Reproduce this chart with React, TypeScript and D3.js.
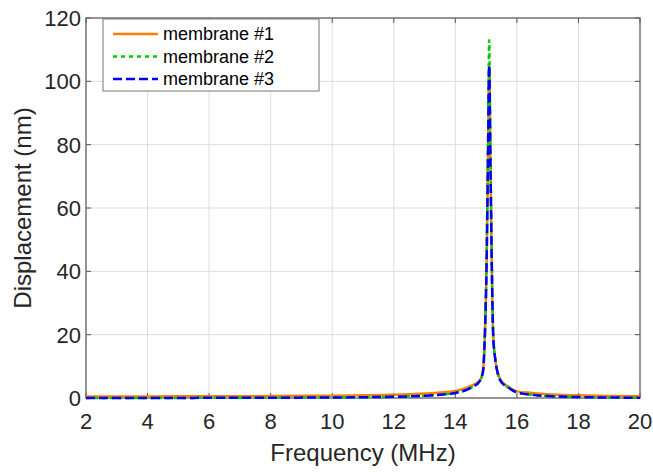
import React from "react";
import * as d3 from "d3";

const freq = [2, 4, 6, 8, 10, 11, 12, 13, 13.5, 14, 14.5, 14.8, 14.9, 14.96, 15.02, 15.06, 15.1, 15.14, 15.18, 15.23, 15.3, 15.36, 15.47, 15.72, 16, 16.5, 17, 18, 19, 20];
const membrane1 = [0.45, 0.5, 0.55, 0.6, 0.75, 0.85, 1.0, 1.4, 1.7, 2.2, 3.8, 5.7, 8.8, 20, 45, 75, 105, 75, 45, 20, 12, 8.8, 5.7, 3.6, 2.1, 1.6, 1.2, 0.85, 0.65, 0.55];
const membrane2 = [0.0, 0.0, 0.05, 0.1, 0.15, 0.25, 0.4, 0.7, 1.0, 1.6, 3.2, 5.4, 8.5, 20, 47, 80, 113, 80, 47, 20, 12, 8.5, 5.4, 3.3, 1.8, 1.0, 0.6, 0.3, 0.15, 0.1];
const membrane3 = [0.0, 0.0, 0.05, 0.1, 0.15, 0.25, 0.4, 0.7, 1.0, 1.6, 3.2, 5.4, 8.5, 20, 45, 75, 105, 75, 45, 20, 12, 8.5, 5.4, 3.3, 1.8, 1.0, 0.6, 0.3, 0.15, 0.1];

const seriesNames = ["membrane #1", "membrane #2", "membrane #3"];
const xTicks = [2, 4, 6, 8, 10, 12, 14, 16, 18, 20];
const yTicks = [0, 20, 40, 60, 80, 100, 120];

const W = 653, H = 472;
const M = { left: 86, right: 13, top: 18, bottom: 74 };
const FONT = "'Liberation Sans', Arial, Helvetica, sans-serif";
const TXT = "#262626";

const styles = [
  { color: "#ff8000", dash: "none" },
  { color: "#00cc00", dash: "4,4" },
  { color: "#0000ff", dash: "9,4" },
];

export default function App() {
  const x = d3.scaleLinear().domain([2, 20]).range([M.left, W - M.right]);
  const y = d3.scaleLinear().domain([0, 120]).range([H - M.bottom, M.top]);
  const data = [membrane1, membrane2, membrane3];
  const line = d3
    .line<number>()
    .x((_, i) => x(freq[i]))
    .y((d) => y(d))
    .curve(d3.curveMonotoneX);
  const x0 = x(2), x1 = x(20), y0 = y(0), y1 = y(120);
  const tl = 5;
  const lg = { x: 103, y: 19, w: 216, h: 72 };

  return (
    <svg width={W} height={H} style={{ position: "absolute", left: 0, top: 0, background: "#fff" }}>
      <rect x={0} y={0} width={W} height={H} fill="#fff" />
      {xTicks.map((t) => (
        <line key={"gx" + t} x1={x(t)} x2={x(t)} y1={y0} y2={y1} stroke="#dedede" strokeWidth={1} />
      ))}
      {yTicks.map((t) => (
        <line key={"gy" + t} x1={x0} x2={x1} y1={y(t)} y2={y(t)} stroke="#dedede" strokeWidth={1} />
      ))}
      {xTicks.map((t) => (
        <g key={"tx" + t}>
          <line x1={x(t)} x2={x(t)} y1={y0} y2={y0 - tl} stroke="#555" strokeWidth={1} />
          <line x1={x(t)} x2={x(t)} y1={y1} y2={y1 + tl} stroke="#555" strokeWidth={1} />
        </g>
      ))}
      {yTicks.map((t) => (
        <g key={"ty" + t}>
          <line x1={x0} x2={x0 + tl} y1={y(t)} y2={y(t)} stroke="#555" strokeWidth={1} />
          <line x1={x1} x2={x1 - tl} y1={y(t)} y2={y(t)} stroke="#555" strokeWidth={1} />
        </g>
      ))}
      <rect x={x0} y={y1} width={x1 - x0} height={y0 - y1} fill="none" stroke="#666" strokeWidth={1.3} />
      {data.map((d, i) => (
        <path
          key={"s" + i}
          d={line(d) || ""}
          fill="none"
          stroke={styles[i].color}
          strokeWidth={2.5}
          strokeDasharray={styles[i].dash}
          strokeLinejoin="round"
        />
      ))}
      {xTicks.map((t) => (
        <text key={"lx" + t} x={x(t)} y={y0 + 31} textAnchor="middle" fontSize={22} fontFamily={FONT} fill={TXT}>
          {t}
        </text>
      ))}
      {yTicks.map((t) => (
        <text key={"ly" + t} x={x0 - 5} y={y(t)} dy="0.36em" textAnchor="end" fontSize={22} fontFamily={FONT} fill={TXT}>
          {t}
        </text>
      ))}
      <text x={(x0 + x1) / 2} y={461} textAnchor="middle" fontSize={24} fontFamily={FONT} fill={TXT}>
        Frequency (MHz)
      </text>
      <text
        transform={`translate(31,${(y0 + y1) / 2}) rotate(-90)`}
        textAnchor="middle"
        fontSize={24}
        fontFamily={FONT}
        fill={TXT}
      >
        Displacement (nm)
      </text>
      <rect x={lg.x} y={lg.y} width={lg.w} height={lg.h} fill="#fff" stroke="#777" strokeWidth={1} />
      {seriesNames.map((n, i) => {
        const yy = lg.y + 15 + i * 22.5;
        return (
          <g key={"lg" + i}>
            <line x1={113} x2={158} y1={yy} y2={yy} stroke={styles[i].color} strokeWidth={2.5} strokeDasharray={styles[i].dash} />
            <text x={163} y={yy} dy="0.35em" fontSize={18} fontFamily={FONT} fill="#000">
              {n}
            </text>
          </g>
        );
      })}
    </svg>
  );
}
